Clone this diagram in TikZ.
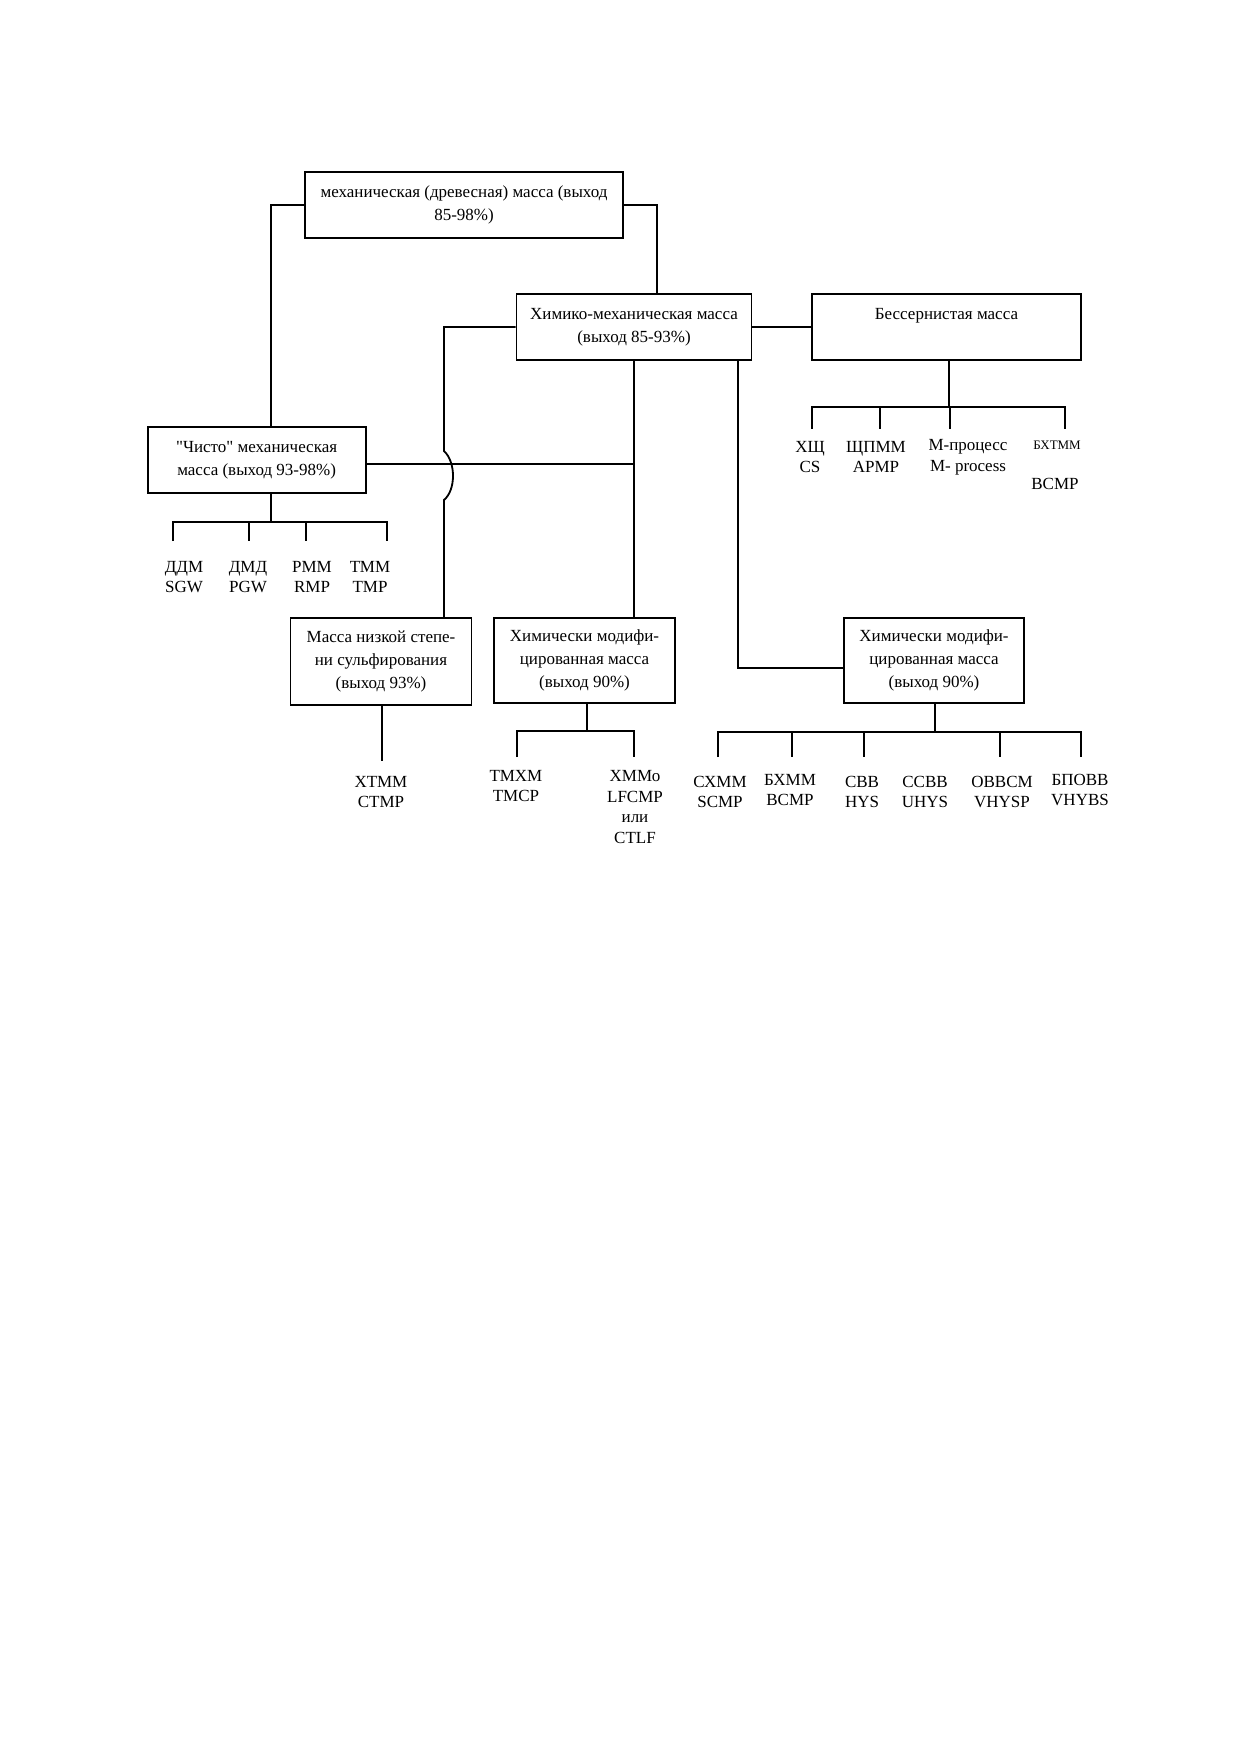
\documentclass[tikz,border=0pt]{standalone}
\usepackage{fontspec}
\setmainfont{Liberation Serif}[Ligatures=TeXOff]
\begin{document}
\begin{tikzpicture}[x=0.5pt,y=-0.5pt,line width=0.9pt,
  box/.style={draw,rectangle,inner sep=0pt,align=center,font=\fontsize{8.5}{11.6}\selectfont},
  leaf/.style={inner sep=0pt,align=center,font=\fontsize{8.5}{10.3}\selectfont},
  small/.style={inner sep=0pt,align=center,font=\fontsize{6.5}{8}\selectfont}]
\fill[white] (0,0) rectangle (1240,1754);
\useasboundingbox (0,0) rectangle (1240,1754);

% boxes
\node[box,minimum width=159pt,minimum height=33pt] (top) at (464,205) {механическая (древесная) масса (выход\\85-98\%)};
\node[box,minimum width=117.5pt,minimum height=33pt] (chem) at (634,327) {Химико-механическая масса\\(выход 85-93\%)};
\node[box,minimum width=134.5pt,minimum height=33pt] (sfree) at (946.5,327) {Бессернистая масса\\\phantom{(выход 85-93\%)}};
\node[box,minimum width=109pt,minimum height=33pt] (pure) at (256.6,460) {"Чисто" механическая\\масса (выход 93-98\%)};
\node[box,minimum width=90.5pt,minimum height=43.5pt] (lows) at (381,661.5) {Масса низкой степе-\\ни сульфирования\\(выход 93\%)};
\node[box,minimum width=90.5pt,minimum height=42.5pt] (mod1) at (584.5,660.5) {Химически модифи-\\цированная масса\\(выход 90\%)};
\node[box,minimum width=90pt,minimum height=42.5pt] (mod2) at (934,660.5) {Химически модифи-\\цированная масса\\(выход 90\%)};

% main connectors
\coordinate (jl) at (271,426);
\coordinate (jr) at (657,294);
\coordinate (jump) at (444,451);
\coordinate (ls) at (444,618);
\draw (top.west) -| (jl);
\draw (top.east) -| (jr);
\draw (chem.east) -- (sfree.west);
\draw (chem.west) -| (jump) .. controls (456,462) and (456,490) .. (444,500) -- (ls);
\draw ([yshift=-2pt]pure.east) -- ([yshift=-2pt]pure.east -| chem.south);
\draw (chem.south) -- (chem.south |- mod1.north);
\draw ([xshift=52pt]chem.south) |- ([yshift=-3.75pt]mod2.west);

% tree under "pure"
\draw (271,493) -- (271,522);
\draw (173,541) -- (173,522) -- (387,522) -- (387,541);
\draw (249,522) -- (249,541);
\draw (306,522) -- (306,541);
\node[leaf] (l1) at (184,577) {ДДМ\\SGW};
\node[leaf] (l2) at (248,577) {ДМД\\PGW};
\node[leaf] (l3) at (312,577) {РММ\\RMP};
\node[leaf] (l4) at (370,577) {ТММ\\TMP};

% tree under low sulfonation
\draw (lows.south -| 382,0) -- (382,761);
\node[leaf] (l5) at (381,792) {ХТММ\\CTMP};

% tree under mod1
\draw (587,704) -- (587,731);
\draw (517,757) -- (517,731) -- (634,731) -- (634,757);
\node[leaf] (l6) at (516,786) {ТМХМ\\TMCP};
\node[leaf] (l7) at (635,807) {ХММо\\LFCMP\\или\\CTLF};

% tree under sulfur-free
\draw (949,360) -- (949,407);
\draw (812,429) -- (812,407) -- (1065,407) -- (1065,429);
\draw (880,407) -- (880,429);
\draw (950,407) -- (950,429);
\node[leaf] (s1) at (810,457) {ХЩ\\CS};
\node[leaf] (s2) at (876,457) {ЩПММ\\APMP};
\node[leaf] (s3) at (968,457) {М-процесс\\M- process};
\node[small] (s4) at (1057,445) {БХТММ};
\node[leaf] (s5) at (1055,484) {BCMP};

% tree under mod2
\draw (935,704) -- (935,732);
\draw (718,757) -- (718,732) -- (1081,732) -- (1081,757);
\foreach \xx in {792,864,1000} \draw (\xx,732) -- (\xx,757);
\node[leaf] (m1) at (720,792) {СХММ\\SCMP};
\node[leaf] (m2) at (790,790) {БХММ\\BCMP};
\node[leaf] (m3) at (862,792) {СВВ\\HYS};
\node[leaf] (m4) at (925,792) {ССВВ\\UHYS};
\node[leaf] (m5) at (1002,792) {ОВВСМ\\VHYSP};
\node[leaf] (m6) at (1080,790) {БПОВВ\\VHYBS};
\end{tikzpicture}
\end{document}
